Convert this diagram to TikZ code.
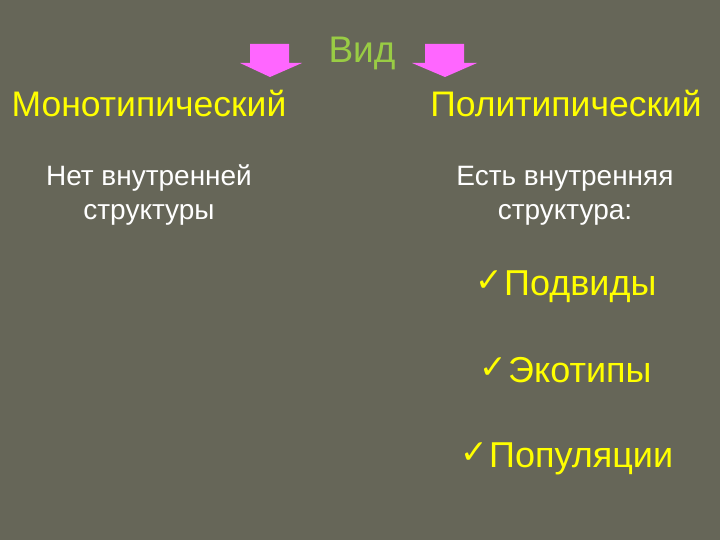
\documentclass[tikz,border=0pt]{standalone}
\usepackage{fontspec}
\setmainfont{Liberation Sans}
\newfontfamily\symfont{DejaVu Sans}
\definecolor{bgc}{RGB}{102,102,88}
\definecolor{ylw}{RGB}{255,255,0}
\definecolor{grn}{RGB}{153,204,68}
\definecolor{pnk}{RGB}{255,102,255}
\begin{document}
\begin{tikzpicture}[x=1pt,y=-1pt,
  title/.style={anchor=base,inner sep=0pt,text=ylw,font=\fontsize{35.5}{38}\selectfont},
  body/.style={anchor=base,inner sep=0pt,text=white,align=center,font=\fontsize{28}{34}\selectfont},
  item/.style={anchor=base west,inner sep=0pt,text=ylw,font=\fontsize{36}{40}\selectfont},
  chk/.style={anchor=base east,inner sep=0pt,text=ylw,font=\symfont\fontsize{33}{36}\selectfont},
  arrowshape/.style={fill=pnk,draw=none}]
\fill[bgc] (0,0) rectangle (720,540);
\useasboundingbox (0,0) rectangle (720,540);
\node[anchor=base,inner sep=0pt,text=grn,font=\fontsize{37}{40}\selectfont] (vid) at (362,63) {Вид};
\fill[arrowshape] (250,44) -- (289,44) -- (289,63) -- (302,63) -- (270,77) -- (240,63) -- (250,63) -- cycle;
\fill[arrowshape] (425,44) -- (464,44) -- (464,63) -- (477,63) -- (445,77) -- (412,63) -- (425,63) -- cycle;
\node[title] (mono) at (149,117) {Монотипический};
\node[title] (poli) at (566,117) {Политипический};
\node[body] (monotext) at (149,220) {Нет внутренней\\структуры};
\node[body] (politext) at (565,220) {Есть внутренняя\\структура:};
\node[item] (i1) at (504,295) {Подвиды};
\node[chk] (c1) at (503,291) {✓};
\node[item] (i2) at (508,382) {Экотипы};
\node[chk] (c2) at (507,378) {✓};
\node[item] (i3) at (489,467) {Популяции};
\node[chk] (c3) at (488,463) {✓};
\end{tikzpicture}
\end{document}
